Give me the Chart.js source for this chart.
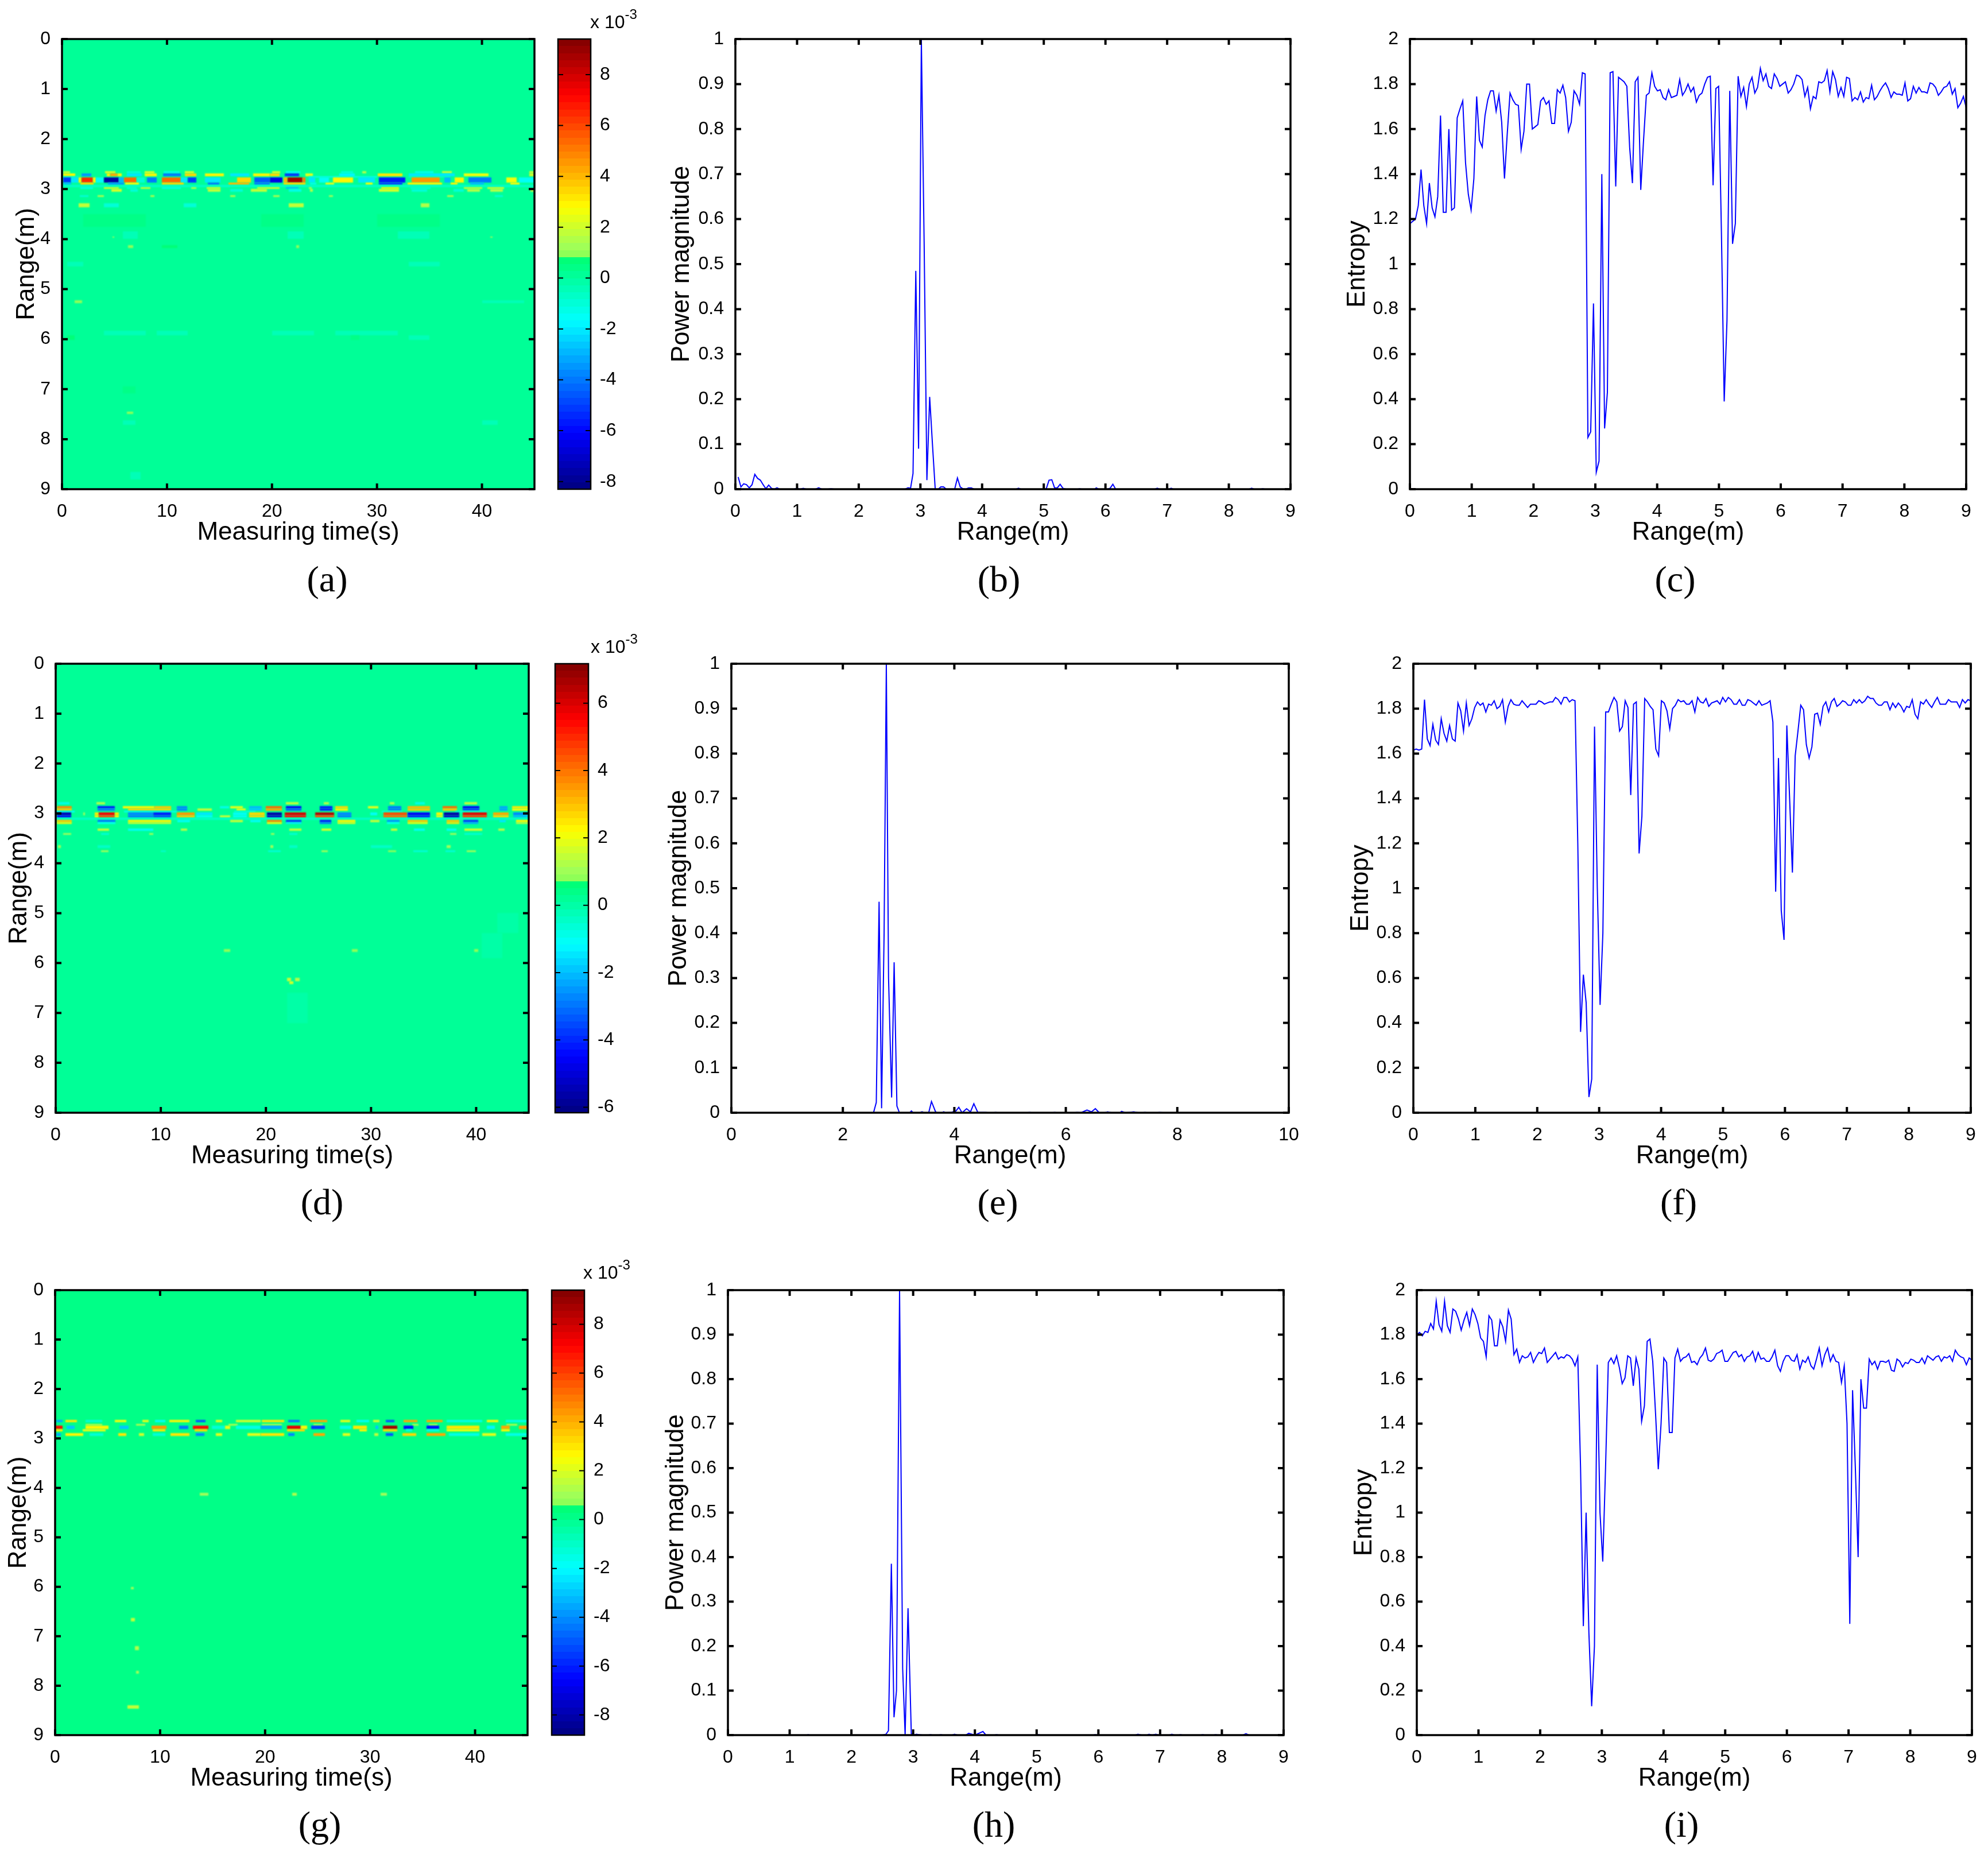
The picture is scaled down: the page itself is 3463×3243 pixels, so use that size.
<!DOCTYPE html>
<html><head><meta charset="utf-8">
<style>
html,body{margin:0;padding:0;background:#fff;width:3463px;height:3243px;overflow:hidden}
canvas{position:absolute;display:block}
.cap{position:absolute;font-family:"Liberation Serif",serif;font-size:64px;line-height:64px;color:#000;transform:translate(-50%,-50%);white-space:nowrap}
.exp{position:absolute;font-family:"Liberation Sans",sans-serif;font-size:32px;line-height:36px;color:#000;white-space:nowrap}
.exp sup{font-size:24px;line-height:0;position:relative;top:-4px;vertical-align:super}
</style></head><body>
<script src="https://cdn.jsdelivr.net/npm/chart.js@4"></script>
<script>
// ---------- tick labels ----------
const ticksRange9=[0,1,2,3,4,5,6,7,8,9];
const ticksRangeE=[0,2,4,6,8,10];
const ticksTime=[0,10,20,30,40];
const ticksPower=[0,0.1,0.2,0.3,0.4,0.5,0.6,0.7,0.8,0.9,1];
const ticksEntropy=[0,0.2,0.4,0.6,0.8,1,1.2,1.4,1.6,1.8,2];
const ticksBarA=[-8,-6,-4,-2,0,2,4,6,8];
const ticksBarD=[-6,-4,-2,0,2,4,6];
const ticksBarG=[-8,-6,-4,-2,0,2,4,6,8];
// ---------- entropy traces (range bins 0.045 m apart) ----------
const binStep=0.045;
const entropyC=[1.18,1.19,1.20,1.26,1.42,1.26,1.18,1.36,1.25,1.21,1.30,1.66,1.23,1.23,1.60,1.24,1.25,1.65,1.69,1.725,1.45,1.31,1.24,1.38,1.745,1.55,1.52,1.66,1.73,1.77,1.77,1.68,1.75,1.63,1.38,1.58,1.76,1.73,1.71,1.705,1.51,1.59,1.80,1.80,1.60,1.61,1.62,1.725,1.74,1.71,1.725,1.625,1.625,1.775,1.76,1.795,1.74,1.59,1.63,1.77,1.75,1.71,1.85,1.845,0.23,0.255,0.825,0.075,0.125,1.40,0.27,0.43,1.85,1.855,1.345,1.83,1.82,1.81,1.79,1.52,1.36,1.81,1.83,1.33,1.55,1.75,1.76,1.85,1.79,1.77,1.775,1.74,1.73,1.775,1.74,1.745,1.75,1.82,1.75,1.77,1.80,1.765,1.785,1.72,1.75,1.76,1.80,1.83,1.835,1.35,1.78,1.79,1.14,0.39,0.75,1.77,1.09,1.18,1.835,1.745,1.785,1.70,1.80,1.83,1.76,1.785,1.87,1.815,1.845,1.79,1.78,1.845,1.825,1.79,1.80,1.81,1.76,1.775,1.80,1.84,1.835,1.82,1.745,1.785,1.69,1.745,1.735,1.81,1.805,1.815,1.86,1.765,1.855,1.82,1.745,1.785,1.745,1.83,1.825,1.725,1.74,1.73,1.765,1.72,1.74,1.735,1.795,1.73,1.745,1.77,1.79,1.805,1.78,1.74,1.765,1.755,1.755,1.75,1.805,1.725,1.735,1.79,1.76,1.785,1.765,1.765,1.76,1.805,1.80,1.785,1.75,1.765,1.785,1.79,1.81,1.755,1.78,1.695,1.715,1.745,1.695];
const entropyF=[1.615,1.62,1.615,1.62,1.84,1.665,1.635,1.73,1.66,1.64,1.755,1.69,1.655,1.725,1.665,1.655,1.825,1.79,1.70,1.825,1.725,1.755,1.805,1.83,1.815,1.825,1.785,1.82,1.815,1.835,1.80,1.81,1.84,1.74,1.81,1.84,1.82,1.815,1.815,1.835,1.82,1.805,1.82,1.82,1.82,1.835,1.83,1.82,1.825,1.83,1.83,1.85,1.84,1.82,1.85,1.85,1.83,1.84,1.835,1.2,0.36,0.615,0.49,0.07,0.15,1.72,1.00,0.48,0.80,1.785,1.785,1.82,1.85,1.83,1.70,1.72,1.835,1.805,1.415,1.82,1.83,1.155,1.32,1.845,1.83,1.81,1.795,1.62,1.59,1.835,1.825,1.79,1.71,1.80,1.815,1.84,1.83,1.835,1.82,1.82,1.835,1.785,1.85,1.83,1.825,1.845,1.81,1.825,1.83,1.835,1.82,1.85,1.83,1.85,1.84,1.82,1.82,1.84,1.815,1.815,1.84,1.835,1.825,1.815,1.835,1.815,1.82,1.825,1.835,1.74,0.985,1.58,0.90,0.77,1.725,1.40,1.07,1.59,1.70,1.815,1.795,1.64,1.58,1.63,1.775,1.78,1.73,1.81,1.83,1.785,1.83,1.845,1.81,1.82,1.835,1.83,1.815,1.815,1.84,1.825,1.84,1.825,1.835,1.855,1.845,1.845,1.825,1.815,1.815,1.83,1.83,1.795,1.825,1.805,1.825,1.81,1.785,1.81,1.805,1.84,1.775,1.755,1.83,1.82,1.84,1.82,1.805,1.83,1.85,1.82,1.82,1.82,1.84,1.83,1.83,1.83,1.805,1.84,1.825,1.84,1.835];
const entropyI=[1.80,1.81,1.795,1.815,1.81,1.85,1.825,1.95,1.845,1.815,1.95,1.84,1.81,1.915,1.905,1.87,1.82,1.865,1.90,1.84,1.915,1.89,1.85,1.785,1.77,1.70,1.885,1.865,1.75,1.75,1.865,1.835,1.77,1.91,1.87,1.71,1.735,1.675,1.705,1.695,1.70,1.72,1.675,1.70,1.72,1.715,1.74,1.675,1.69,1.705,1.72,1.69,1.70,1.695,1.71,1.705,1.69,1.66,1.70,1.2,0.49,1.00,0.46,0.13,0.40,1.665,1.0,0.78,1.2,1.675,1.695,1.67,1.705,1.65,1.58,1.605,1.705,1.695,1.57,1.695,1.645,1.41,1.48,1.77,1.78,1.68,1.45,1.195,1.40,1.695,1.675,1.36,1.36,1.695,1.735,1.68,1.695,1.70,1.715,1.675,1.68,1.665,1.695,1.71,1.74,1.685,1.68,1.69,1.715,1.72,1.73,1.68,1.68,1.70,1.72,1.725,1.70,1.71,1.68,1.70,1.705,1.725,1.68,1.72,1.69,1.695,1.68,1.68,1.70,1.73,1.66,1.635,1.68,1.705,1.705,1.685,1.68,1.71,1.645,1.685,1.675,1.70,1.66,1.645,1.69,1.74,1.66,1.71,1.74,1.68,1.71,1.68,1.675,1.585,1.66,1.40,0.50,1.55,1.20,0.80,1.60,1.47,1.47,1.69,1.665,1.68,1.645,1.68,1.68,1.675,1.685,1.64,1.635,1.69,1.68,1.655,1.675,1.67,1.69,1.685,1.675,1.675,1.695,1.67,1.705,1.695,1.685,1.70,1.705,1.68,1.70,1.695,1.705,1.68,1.73,1.71,1.70,1.695,1.665,1.695,1.685];
// ---------- power magnitude traces ----------
const rangeB=[0.045,0.09,0.135,0.18,0.225,0.27,0.315,0.36,0.405,0.45,0.495,0.54,0.585,0.63,0.675,0.72,0.95,1,1.05,1.1,1.15,1.3,1.35,1.4,1.5,1.55,1.6,2.75,2.8,2.84,2.88,2.925,2.97,3.015,3.06,3.105,3.15,3.195,3.24,3.29,3.33,3.375,3.42,3.555,3.6,3.645,3.69,3.735,3.78,3.825,3.87,4.55,4.59,4.63,5.0,5.04,5.085,5.13,5.175,5.22,5.265,5.31,5.36,5.55,5.58,5.61,5.83,5.85,5.89,6.03,6.075,6.12,6.165,6.8,6.84,6.88,7.03,7.065,7.1,8.33,8.37,8.41,8.52,8.55,8.58,9];
const powerB=[0.027,0.005,0.012,0.01,0.003,0.01,0.033,0.024,0.02,0.01,0.001,0.009,0.002,0,0.003,0,0,0.002,0,0.002,0,0,0.003,0,0,0.001,0,0,0.003,0.002,0.035,0.485,0.09,1,0.55,0.02,0.205,0.1,0,0,0.005,0.005,0,0,0.025,0.005,0.001,0,0.003,0.003,0,0,0.002,0,0,0.001,0.02,0.021,0.003,0.003,0.011,0.002,0,0,0.001,0,0,0.003,0,0,0.002,0.011,0,0,0.002,0,0,0.002,0,0,0.002,0,0,0.001,0,0];
const rangeE=[0,2.55,2.6,2.65,2.695,2.74,2.78,2.82,2.875,2.92,2.97,3.015,3.2,3.23,3.26,3.38,3.42,3.46,3.54,3.59,3.66,3.68,3.78,3.81,3.84,3.95,4.03,4.08,4.14,4.22,4.29,4.35,4.42,4.56,4.6,4.71,4.74,4.77,5.32,5.35,5.38,5.77,5.8,5.83,6.17,6.2,6.27,6.38,6.46,6.53,6.6,6.7,6.75,6.82,6.97,7.0,7.07,7.22,7.3,7.39,7.42,7.45,7.65,7.68,7.74,10];
const powerE=[0,0,0.023,0.47,0.01,0.4,1,0.3,0.034,0.335,0.015,0,0,0.004,0,0,0.002,0,0,0.025,0.003,0,0,0.002,0,0.001,0.004,0.012,0,0.009,0.002,0.02,0.001,0.001,0,0,0.001,0,0,0.001,0,0,0.001,0,0,0.001,0,0.006,0.002,0.009,0,0,0.002,0,0,0.003,0,0.002,0,0,0.001,0,0,0.001,0,0];
const rangeH=[0,1.28,1.3,1.32,2.5,2.56,2.6,2.647,2.69,2.73,2.78,2.83,2.87,2.917,2.97,3.01,3.05,3.15,3.25,3.28,3.31,3.42,3.45,3.48,3.63,3.67,3.72,3.85,3.9,4,4.13,4.18,4.32,4.35,4.38,5,5.03,5.06,5.92,5.95,5.98,6.6,6.64,6.7,6.79,6.82,6.87,6.93,6.98,7.15,7.19,7.23,7.3,7.33,7.36,7.66,7.69,7.72,7.87,7.9,7.93,8.34,8.39,8.44,9];
const powerH=[0,0,0.001,0,0,0.002,0.01,0.385,0.04,0.1,1,0.15,0,0.285,0.003,0,0.002,0,0,0.001,0,0,0.001,0,0,0.002,0,0,0.004,0,0.008,0,0,0.001,0,0,0.001,0,0,0.001,0,0,0.002,0,0,0.002,0,0.002,0,0,0.002,0,0,0.001,0,0,0.001,0,0,0.001,0,0,0.003,0,0];
// ---------- time-range maps: [rangeTop, rangeBottom, [t0,t1,value(x10^-3), ...]] ----------
const backgroundA=0.12, backgroundD=0.15, backgroundG=0.15;
const mapRowsA=[
[2.64,2.69,[0.1,0.75,1.8, 4.1,5.1,2, 6.2,7.5,-1, 7.9,8.8,2, 9.7,11.2,-1.3, 11.7,12.6,2, 20,20.8,2, 21.3,22.7,-1.5, 26.6,27.7,-1, 28.6,29,1.6, 33.6,35.4,-1.2, 36.2,37.1,1.8, 44.5,45,1.8]],
[2.69,2.74,[0.1,1.26,3, 1.85,2.8,-3.5, 4.25,4.6,3, 4.6,5.3,4.3, 5.3,5.7,3, 6.2,7.6,-2, 7.9,9,3, 9.6,11.3,-4, 11.7,12.8,3.5, 13.6,15.4,3, 16,17.8,-2, 18.2,19.8,3, 19.8,20.7,3.5, 21.2,22.6,-5, 23.2,23.9,2.3, 26.4,27.9,-1.8, 30.1,32.4,3.3, 33,37.4,-2, 38.3,40.6,2.5, 44.5,45,2]],
[2.74,2.765,[23.5,30,-1.6, 33,37,-1, 0,1.6,-1]],
[2.765,2.865,[0.1,0.9,-5, 0.9,1.6,-2, 1.6,1.85,3, 1.85,2.95,6.5, 2.95,3.2,3, 3.2,4,-1.5, 4,5.4,-7.7, 5.4,5.9,-3, 5.9,7.1,5.5, 7.1,7.9,-1, 8.1,9,-4, 9.5,11.3,5.5, 11.3,11.9,-2, 11.95,12.8,-5, 13.6,15.1,-2, 16.7,18,3.5, 18.3,19.8,-4.5, 19.8,21,-6.5, 21.1,21.5,4, 21.5,22.9,8.6, 22.9,23.2,5, 23.5,24.1,-2, 24.5,25.4,-1.5, 25.8,27.7,3, 28.2,29.8,-2, 30.2,32.7,-5.7, 33.3,36,4.5, 36.4,37,-3, 37.4,38.3,3, 38.7,40.9,-4, 42.3,43.3,2.5, 43.5,45,-1.5]],
[2.865,2.915,[0.15,0.9,-3, 1.76,3,3.5, 4.4,5.9,-3.5, 6,7.3,2.5, 9.5,11.6,3.5, 13.9,15,-4, 15.85,17.8,4, 18.3,19.8,-4, 21.1,23.2,3.5, 23.6,24.2,-1.2, 25.1,25.9,2.3, 28.9,29.6,2.5, 30.2,32.4,-5, 32.9,36.2,3, 37,37.7,3, 38.9,40.2,-3, 42.7,43.6,2.5]],
[2.915,2.96,[0,45,-0.7]],
[2.96,3.0,[1.76,2.95,-1.2, 4,5.4,2.2, 6.2,7.1,-1, 7.5,8.4,1.8, 9.5,11.3,-1.2, 12.3,12.8,1.5, 13.8,15.1,2, 18.6,20.7,2.2, 21.3,22.5,-3, 23.5,23.8,1.5, 30.4,32.1,2.8, 33.2,35.1,-1, 38.3,40,1.7, 40.5,42.1,2.2]],
[3.0,3.05,[4.7,5.7,2, 6.5,7.2,-0.9, 13.9,15.1,1.7, 16,17.2,-1, 18,19.5,1.7, 21.6,22.8,-1.2, 23.6,23.9,1.5, 30.2,32.1,2.2, 33.3,34.8,-0.9, 37.3,38.3,-0.9, 38.6,39.8,1.5, 40.8,42,1.6, 44.6,45,1.5]],
[3.12,3.16,[1.7,2.5,-1, 3.4,4,1.4, 8.4,8.8,1.4, 16,16.5,1.4, 20.1,20.7,1.5, 25.4,25.8,1.3, 36.7,37.3,1.4, 41.2,42,-1]],
[3.28,3.36,[1.6,2.6,1.8, 4,5.4,-0.9, 11.6,12.8,-0.9, 21.6,23,1.8, 34.2,35,1.4]],
[3.5,3.75,[2,8,0.5, 19,23,0.5, 30,36,0.5]],
[3.85,4.0,[5.8,7.2,-0.5, 21.5,23,-0.5, 32,35,-0.3]],
[3.95,3.97,[4.8,5,1.2, 40.8,41,1.2]],
[4.12,4.18,[6.3,6.8,1.1, 9.5,11,0.6, 22.3,22.6,1.1]],
[4.45,4.55,[0.5,2,-0.3, 33,36,-0.3]],
[5.22,5.28,[1.2,1.9,1.1, 40,44,-0.4]],
[5.83,5.92,[4,8,-0.3, 9,12,-0.3, 20,24,-0.4, 26,32,-0.3]],
[5.92,6.02,[0.5,1.2,0.6, 27.5,28.3,0.5, 33,35,-0.3]],
[6.95,7.08,[5.8,7,0.5]],
[7.45,7.5,[6.2,6.8,1.1]],
[7.62,7.72,[5.8,7,-0.5, 40,41.5,-0.3]],
[8.65,8.8,[6.5,7.5,-0.3]]
];
const mapRowsD=[
[2.77,2.815,[0.2,1.3,-0.8, 3.9,4.7,1.3, 21.9,23.1,1.4, 25.5,26,1.2, 31.8,32.2,1.3, 34.2,35.1,-0.8, 38.9,40.1,1.4]],
[2.85,2.90,[0.1,1.55,3.8, 4,5.6,-4.2, 6.4,9.4,2.3, 9.4,11,3, 11.55,12.5,-2.7, 15.6,16.5,-0.8, 16.6,17.8,1.8, 18.4,19.6,-2, 20,21.5,4.2, 21.9,23.4,-4.6, 25.1,26.3,-4.2, 26.6,27.8,2.6, 29.7,30.7,1.8, 31.6,32.9,-3, 33.5,35.6,3.2, 36.8,38.2,4.2, 38.7,40.3,-4.6, 42.2,43,-2.3, 43.4,45,2.4]],
[2.90,2.95,[0.1,1.55,3, 4,5.6,-3, 6.9,11,2.7, 11.55,12.5,-2.7, 13.5,14.85,1.5, 17.2,18.1,1.8, 18.4,19.6,-1.8, 20,21.5,3.4, 21.9,23.4,-3.4, 25.1,26.3,-4.2, 26.6,27.8,2.2, 31.6,32.9,-3, 33.5,35.6,2.9, 36.8,38.2,3, 38.7,40.3,-3.8, 42.2,43,-2.3, 43.4,45,2]],
[2.95,2.985,[0,1.8,-1, 6.5,11.5,-0.9, 17,19,-0.7, 31,33,-0.7, 38,41,-0.7]],
[2.985,3.034,[0.1,1.47,-5.4, 2.6,2.8,1.1, 3.7,4.1,2.4, 4.1,5.6,5.7, 5.6,6,2.4, 6.9,9.3,-2.7, 9.3,11,-4.2, 11.5,13.2,3.6, 13.4,14.9,-1.4, 16.9,18.2,-1.1, 18.4,19.9,2.7, 20.1,21.5,-5.7, 21.8,23.8,6.1, 24.7,26.5,6.5, 26.8,28.1,-2.7, 29.9,30.6,-1.1, 31.2,33.4,4.6, 33.5,35.6,-4.6, 36.2,36.8,2.3, 36.9,38.4,-5.7, 38.7,41,5.8, 41.6,43.1,3.4, 43.5,44.9,-2.7]],
[3.034,3.08,[0.1,1.47,-4.6, 3.7,4.1,2.2, 4.1,5.6,4.6, 5.6,6,2.2, 6.9,9.3,-3, 9.3,11,-3.6, 11.5,13.2,3, 13.4,14.9,-1.1, 15.6,16.6,1.5, 16.9,18.2,-1, 18.4,19.9,2.7, 20.1,21.5,-5.3, 21.8,23.8,5.3, 24.7,26.5,4.6, 26.8,28.1,-3, 31.2,33.4,4.2, 33.5,35.6,-4.2, 36.2,36.8,1.8, 36.9,38.4,-5.3, 38.7,41,4.8, 41.6,43.1,2.6, 43.5,44.9,-2]],
[3.08,3.134,[0,45,-0.4]],
[3.134,3.172,[0.1,1.55,3, 4,5.7,-3, 6.9,11,2.3, 11.6,12.8,-1.1, 16.6,17.8,1.5, 18.5,19.5,-1.1, 20.1,21.5,3.8, 21.9,23.4,-3.8, 25.1,26.2,-4.2, 26.8,28.5,2.3, 29.9,30.8,1.4, 31.5,32.7,-2.6, 33.5,35.4,3, 37.2,38.4,3, 38.8,40.2,-3.8, 42.2,42.8,-1.5, 43.8,45,2.3]],
[3.172,3.215,[0.1,1.55,2.3, 4,5.7,-1.1, 6.9,11,1.75, 20.1,21.5,2.3, 21.9,23.4,-1.5, 25.1,26.2,-3, 26.8,28.5,1.9, 31.5,32.7,-1, 33.5,35.4,2.1, 37.2,38.4,2.4, 38.8,40.2,-2.3, 43.8,45,1.4]],
[3.30,3.35,[4,5.1,1.5, 6.9,9.3,-1.1, 11.9,12.5,1.2, 22.2,23.4,1.5, 25.3,26.2,1.7, 31.9,32.5,1.4, 34.1,35.1,-1.1, 37.2,38.1,-1, 38.9,40.6,1.7, 42.1,42.7,1.2]],
[3.395,3.425,[0.7,1.5,1.1, 4.3,5.1,-0.7, 8.9,9.3,1, 20.5,20.8,1.1, 22.2,23,-0.7, 37.5,38.1,1.1, 38.9,40.6,-0.7]],
[3.64,3.69,[0.2,0.5,1, 4,5.2,-0.5, 20.4,20.7,1, 22.2,23,-0.5, 30,32,-0.4, 37.2,37.6,1]],
[3.74,3.78,[4.3,5,1, 10,10.5,-0.5, 20.2,21.4,-0.6, 25.3,25.9,1, 31.6,32.4,0.9, 34,35.4,-0.6, 37.1,38,-0.7, 39.1,40,1]],
[5.72,5.78,[16,16.6,0.9, 28.2,28.7,0.9, 39.8,40.2,0.9]],
[6.3,6.37,[22,22.4,1.4, 22.8,23.2,1.2]],
[6.37,6.42,[22.2,22.6,1.6]],
[6.6,7.2,[22,24,-0.1]],
[5,5.4,[42,44,-0.1]],
[5.4,5.9,[40.5,42.5,-0.1]]
];
const mapRowsG=[
[2.628,2.674,[0.1,0.7,-3.5, 1,2.1,3, 2.9,4.5,-1.3, 5.7,6.8,2.5, 8.3,8.9,2, 9.5,10.5,-1.8, 10.9,12.8,2.8, 13.4,14.3,-5, 15.3,15.9,2, 17.2,19.6,1.8, 19.7,21.8,3, 22.2,23.3,-4.5, 24.3,25.9,4, 27.2,28.1,2.2, 28.7,29.9,-1.8, 30.3,30.9,1.8, 31.5,32.3,-5, 33.2,34.5,4, 35.4,36.9,4, 37.3,40.7,-1.6, 41.1,42.2,2.8, 42.9,45,-1.6]],
[2.705,2.744,[2.9,4.5,1.4, 7.7,8.6,1.3, 16.5,17.4,1.3, 19.7,21.6,1.3, 24.6,25.5,1.4, 34,34.6,1.3, 35.6,36.4,1.4, 43,44,1.3]],
[2.744,2.814,[0,0.7,7, 1.1,1.85,-3, 2.9,5.1,2.8, 6.1,7,-3, 9.2,10.6,4.5, 11.8,12.7,-4.5, 13.1,14.6,7, 14.9,16.2,-1.3, 16.2,16.7,2, 17.2,19.6,-1.5, 19.6,21.6,-3.5, 22.1,23.4,7.5, 23.4,24,2.8, 24.4,25.7,-5.5, 27.1,28.2,-1.5, 28.4,29.7,3, 30.5,30.8,-3, 31.2,32.6,8.6, 33.2,34.1,-6.5, 35.4,36.6,-6.5, 37.3,40.4,2.9, 41.1,41.9,-2, 42.5,43.3,4, 44.2,45,4]],
[2.814,2.853,[0,0.7,3, 2.6,4.8,2, 9.3,10.5,3, 13.3,14.5,3.2, 22.1,23.8,3.2, 29,29.7,2.6, 31.2,32.6,3.2, 33.4,34,-1.5, 35.4,36.6,-1.5, 37.3,40.4,2.3, 42.5,43.3,2.6]],
[2.891,2.946,[0.1,0.55,-3.5, 1,2.7,2.6, 3.3,4.6,-1.2, 6,6.8,3, 8,8.5,1.8, 9.3,10.5,-1.4, 11,12.8,3, 13.4,14.2,-4, 15.3,15.9,2, 18.3,19.6,2, 19.6,21.8,2.9, 22.2,22.8,-4, 24.6,25.7,4, 27.4,28.1,2.2, 30.4,30.8,1.7, 31.5,32.2,-5, 33.1,34.4,3.4, 35.4,37.2,4, 37.5,40.4,-1.5, 40.7,42,2, 42.9,45,-1.5]],
[4.1,4.16,[13.8,14.6,1.1, 22.6,23,1.3, 31,31.6,1.1]],
[6.0,6.05,[7.2,7.5,1.1]],
[6.63,6.7,[7.2,7.6,1.6]],
[7.2,7.28,[7.6,8,1.4]],
[7.7,7.76,[7.7,8,1.1]],
[8.4,8.47,[6.9,8,1.5]]
];
// ---------- jet-like colour map (64 levels) ----------
function jet(t){
  t=Math.max(0,Math.min(0.9999,t)); t=(Math.floor(t*64)+0.5)/64;
  let r,g,b;
  if(t<0.125){r=0;g=0;b=0.5+4*t;}
  else if(t<0.375){r=0;g=(t-0.125)*4;b=1;}
  else if(t<0.625){g=1;b=(0.625-t)*4;r=t<0.516?0:(t-0.39)*4.2; if(t>=0.516){b=Math.min(b,0.34);}}
  else if(t<0.875){r=1;g=(0.875-t)*4;b=0;}
  else {r=1-(t-0.875)*4;g=0;b=0;}
  const c=x=>Math.round(Math.min(1,Math.max(0,x))*255);
  return 'rgb('+c(r)+','+c(g)+','+c(b)+')';
}
// ---------- plugins ----------
const framePlugin={id:'frame',afterDraw(chart,args,o){
  const {ctx,chartArea:a,scales}=chart;
  ctx.save();ctx.strokeStyle='#000';ctx.lineCap='butt';
  ctx.lineWidth=o.tickWidth||4;
  const len=o.tickLen||10;
  if(!o.noX){for(const t of scales.x.ticks){const p=scales.x.getPixelForValue(t.value);
    ctx.beginPath();ctx.moveTo(p,a.bottom);ctx.lineTo(p,a.bottom-len);ctx.moveTo(p,a.top);ctx.lineTo(p,a.top+len);ctx.stroke();}}
  for(const t of scales.y.ticks){const p=scales.y.getPixelForValue(t.value);
    ctx.beginPath();ctx.moveTo(a.left,p);ctx.lineTo(a.left+len,p);ctx.moveTo(a.right,p);ctx.lineTo(a.right-len,p);ctx.stroke();}
  ctx.lineWidth=o.width||3.5;ctx.strokeRect(a.left,a.top,a.right-a.left,a.bottom-a.top);
  ctx.restore();
}};
const cellsPlugin={id:'cells',beforeDatasetsDraw(chart){
  const {ctx,chartArea:a,scales:{x,y}}=chart;
  ctx.save();ctx.beginPath();ctx.rect(a.left,a.top,a.right-a.left,a.bottom-a.top);ctx.clip();
  for(const ds of chart.data.datasets){
    if(!ds.cells)continue;
    ctx.filter=ds.blur?'blur('+ds.blur+'px)':'none';
    for(const c of ds.cells){
      const xa=Math.round(x.getPixelForValue(c.t0)),xb=Math.round(x.getPixelForValue(c.t1)),ya=Math.round(y.getPixelForValue(c.r0)),yb=Math.round(y.getPixelForValue(c.r1));
      ctx.fillStyle=jet((c.v-ds.vmin)/(ds.vmax-ds.vmin));
      ctx.fillRect(Math.min(xa,xb),Math.min(ya,yb),Math.abs(xb-xa),Math.abs(yb-ya));
    }
  }
  ctx.restore();
}};
const FONT='"Liberation Sans",Arial,sans-serif';
const tickFmt=v=>String(Number(v.toFixed(1)));
function axis(o){
  return {type:'linear',min:o.min,max:o.max,reverse:!!o.reverse,position:o.position,display:o.display!==false,
    grid:{display:false},border:{display:false},
    afterBuildTicks:s=>{s.ticks=o.ticks.map(v=>({value:v}));},
    afterFit:s=>{if(o.size!=null){if(s.isHorizontal())s.height=o.size;else s.width=o.size;}},
    title:{display:!!o.title,text:o.title,color:'#000',padding:0,font:{family:FONT,size:44}},
    ticks:{autoSkip:false,maxRotation:0,minRotation:0,color:'#000',padding:o.pad,font:{family:FONT,size:32},callback:tickFmt}};
}
const PAD=44, BOTTOM=102;
function place(id,L,T,R,B,mL,mB,mR,cfg){
  const c=document.createElement('canvas');c.id=id;
  const w=Math.round(mL+(R-L)+mR),h=Math.round(PAD+(B-T)+mB);
  c.width=w;c.height=h;c.style.width=w+'px';c.style.height=h+'px';
  c.style.left=(L-mL)+'px';c.style.top=(T-PAD)+'px';
  document.body.appendChild(c);
  cfg.options=Object.assign({responsive:false,animation:false,devicePixelRatio:1,events:[],
    layout:{autoPadding:false,padding:{top:PAD,right:mR,bottom:0,left:0}}},cfg.options);
  new Chart(c,cfg);
}
function linePanel(id,L,T,R,B,mL,xs,ys,xMax,xTicks,yMax,yTicks,yTitle){
  place(id,L,T,R,B,mL,BOTTOM,44,{type:'scatter',
    data:{datasets:[{data:xs.map((x,i)=>({x,y:ys[i]})),showLine:true,borderColor:'#0000ff',borderWidth:2,pointRadius:0,tension:0,fill:false}]},
    options:{plugins:{legend:{display:false},tooltip:{enabled:false},frame:{}},
      scales:{x:axis({min:0,max:xMax,ticks:xTicks,position:'bottom',title:'Range(m)',size:BOTTOM,pad:12}),
              y:axis({min:0,max:yMax,ticks:yTicks,position:'left',title:yTitle,size:mL,pad:12})}},
    plugins:[framePlugin]});
}
function expandRows(rows){
  const out=[];
  for(const [r0,r1,segs] of rows){for(let i=0;i<segs.length;i+=3){out.push({r0,r1,t0:segs[i],t1:segs[i+1],v:segs[i+2]});}}
  return out;
}
function mapPanel(id,L,T,R,B,mL,rows,bg,vmin,vmax){
  const cells=[{r0:0,r1:9,t0:0,t1:45,v:bg}].concat(expandRows(rows));
  place(id,L,T,R,B,mL,BOTTOM,44,{type:'scatter',
    data:{datasets:[{data:[],cells,vmin,vmax,blur:1.2,pointRadius:0}]},
    options:{plugins:{legend:{display:false},tooltip:{enabled:false},frame:{}},
      scales:{x:axis({min:0,max:45,ticks:ticksTime,position:'bottom',title:'Measuring time(s)',size:BOTTOM,pad:12}),
              y:axis({min:0,max:9,reverse:true,ticks:ticksRange9,position:'left',title:'Range(m)',size:mL,pad:12})}},
    plugins:[cellsPlugin,framePlugin]});
}
function barPanel(id,L,T,R,B,vmin,vmax,ticks){
  const cells=[];
  for(let i=0;i<64;i++){const a=vmin+(vmax-vmin)*i/64,b=vmin+(vmax-vmin)*(i+1)/64;cells.push({r0:a,r1:b,t0:0,t1:1,v:(a+b)/2});}
  place(id,L,T,R,B,4,40,90,{type:'scatter',
    data:{datasets:[{data:[],cells,vmin,vmax,pointRadius:0}]},
    options:{plugins:{legend:{display:false},tooltip:{enabled:false},frame:{noX:true,tickWidth:2,tickLen:9,width:2.5}},
      layout:{autoPadding:false,padding:{top:PAD,right:0,bottom:40,left:4}},
      scales:{x:axis({min:0,max:1,ticks:[],position:'bottom',display:false}),
              y:axis({min:vmin,max:vmax,ticks,position:'right',size:90,pad:8})}},
    plugins:[cellsPlugin,framePlugin]});
}
function label(cls,html,x,y){const d=document.createElement('div');d.className=cls;d.innerHTML=html;d.style.left=x+'px';d.style.top=y+'px';document.body.appendChild(d);}

// Row 1
mapPanel('a',108,68,931,852,88,mapRowsA,backgroundA,-8.3,9.4);
barPanel('barA',972,68,1029,852,-8.3,9.4,ticksBarA);
linePanel('b',1281,68,2248,852,120,rangeB,powerB,9,ticksRange9,1,ticksPower,'Power magnitude');
linePanel('c',2456,68,3425,852,118,entropyC.map((_,i)=>i*binStep),entropyC,9,ticksRange9,2,ticksEntropy,'Entropy');
// Row 2
mapPanel('d',97,1156,921,1938,90,mapRowsD,backgroundD,-6.16,7.17);
barPanel('barD',967,1156,1025,1938,-6.16,7.17,ticksBarD);
linePanel('e',1274,1156,2245,1938,118,rangeE,powerE,10,ticksRangeE,1,ticksPower,'Power magnitude');
linePanel('f',2462,1156,3433,1938,118,entropyF.map((_,i)=>i*binStep),entropyF,9,ticksRange9,2,ticksEntropy,'Entropy');
// Row 3
mapPanel('g',96,2247,919,3022,90,mapRowsG,backgroundG,-8.83,9.4);
barPanel('barG',961,2247,1018,3022,-8.83,9.4,ticksBarG);
linePanel('h',1268,2247,2236,3022,117,rangeH,powerH,9,ticksRange9,1,ticksPower,'Power magnitude');
linePanel('i',2468,2247,3435,3022,118,entropyI.map((_,i)=>i*binStep),entropyI,9,ticksRange9,2,ticksEntropy,'Entropy');

label('exp','x 10<sup>-3</sup>',1028,20);
label('exp','x 10<sup>-3</sup>',1029,1108);
label('exp','x 10<sup>-3</sup>',1016,2198);
[['(a)',570,1009],['(b)',1740,1009],['(c)',2918,1009],
 ['(d)',561,2094],['(e)',1738,2094],['(f)',2924,2094],
 ['(g)',557,3178],['(h)',1731,3178],['(i)',2929,3178]].forEach(c=>label('cap',c[0],c[1],c[2]));
</script>
</body></html>
